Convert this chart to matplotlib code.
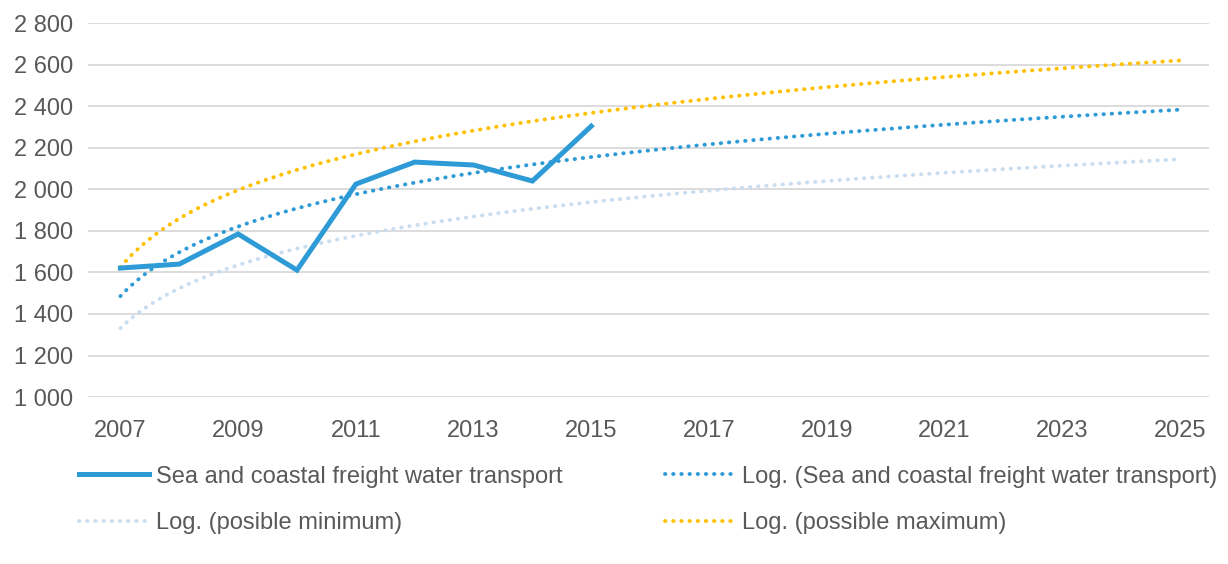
import numpy as np
import matplotlib.pyplot as plt
from matplotlib.ticker import FuncFormatter

plt.rcParams['font.family'] = ['Liberation Sans', 'DejaVu Sans']

years = [2007, 2008, 2009, 2010, 2011, 2012, 2013, 2014, 2015]
freight = [1621, 1640, 1785, 1611, 2025, 2131, 2117, 2040, 2304]

trend_years = list(range(2007, 2026))
# log trend coefficients y = a*ln(x) + b, x = 1 for 2007
min_a, min_b = 276, 1332
max_a, max_b = 338, 1625

c_main = '#2E9BD6'
c_min = '#C9DDF0'
c_max = '#FFC000'
c_text = '#595959'
fs = 17

# fit the log trend of the freight series
xi = np.arange(1, len(years) + 1)
a, b = np.polyfit(np.log(xi), freight, 1)

xs = np.linspace(1, len(trend_years), 300)
xs_year = xs + trend_years[0] - 1

fig = plt.figure(figsize=(12.28, 5.64), dpi=100)
ax = fig.add_axes([0.0717, 0.296, 0.913, 0.663])

dots = (0, (0.1, 2.0))
ax.plot(years, freight, color=c_main, lw=3.6, solid_joinstyle='miter',
        label='Sea and coastal freight water transport', zorder=5)
ax.plot(xs_year, a * np.log(xs) + b, color=c_main, lw=2.8, ls=dots,
        dash_capstyle='round', label='Log. (Sea and coastal freight water transport)', zorder=4)
ax.plot(xs_year, min_a * np.log(xs) + min_b, color=c_min, lw=2.8, ls=dots,
        dash_capstyle='round', label='Log. (posible minimum)', zorder=3)
ax.plot(xs_year, max_a * np.log(xs) + max_b, color=c_max, lw=2.8, ls=dots,
        dash_capstyle='round', label='Log. (possible maximum)', zorder=3)

ax.set_xlim(2006.45, 2025.5)
ax.set_ylim(1000, 2800)
ax.set_xticks(range(2007, 2026, 2))
ax.set_yticks(range(1000, 2801, 200))
ax.yaxis.set_major_formatter(FuncFormatter(lambda v, p: f'{int(v):,}'.replace(',', ' ')))
ax.tick_params(length=0, labelsize=fs, colors=c_text)
ax.tick_params(axis='x', pad=16.5)
ax.tick_params(axis='y', pad=11)
ax.grid(axis='y', color='#D9D9D9', lw=1.3)
ax.set_axisbelow(True)
for s in ax.spines.values():
    s.set_visible(False)

h, l = ax.get_legend_handles_labels()
order = [0, 2, 1, 3]
fig.legend([h[i] for i in order], [l[i] for i in order], ncol=2,
           loc='upper left', bbox_to_anchor=(0.047, 0.212), frameon=False,
           fontsize=fs, labelcolor=c_text, handlelength=2.95, handletextpad=0.3,
           columnspacing=4.35, labelspacing=1.02)

fig.savefig('out.png', dpi=100)
